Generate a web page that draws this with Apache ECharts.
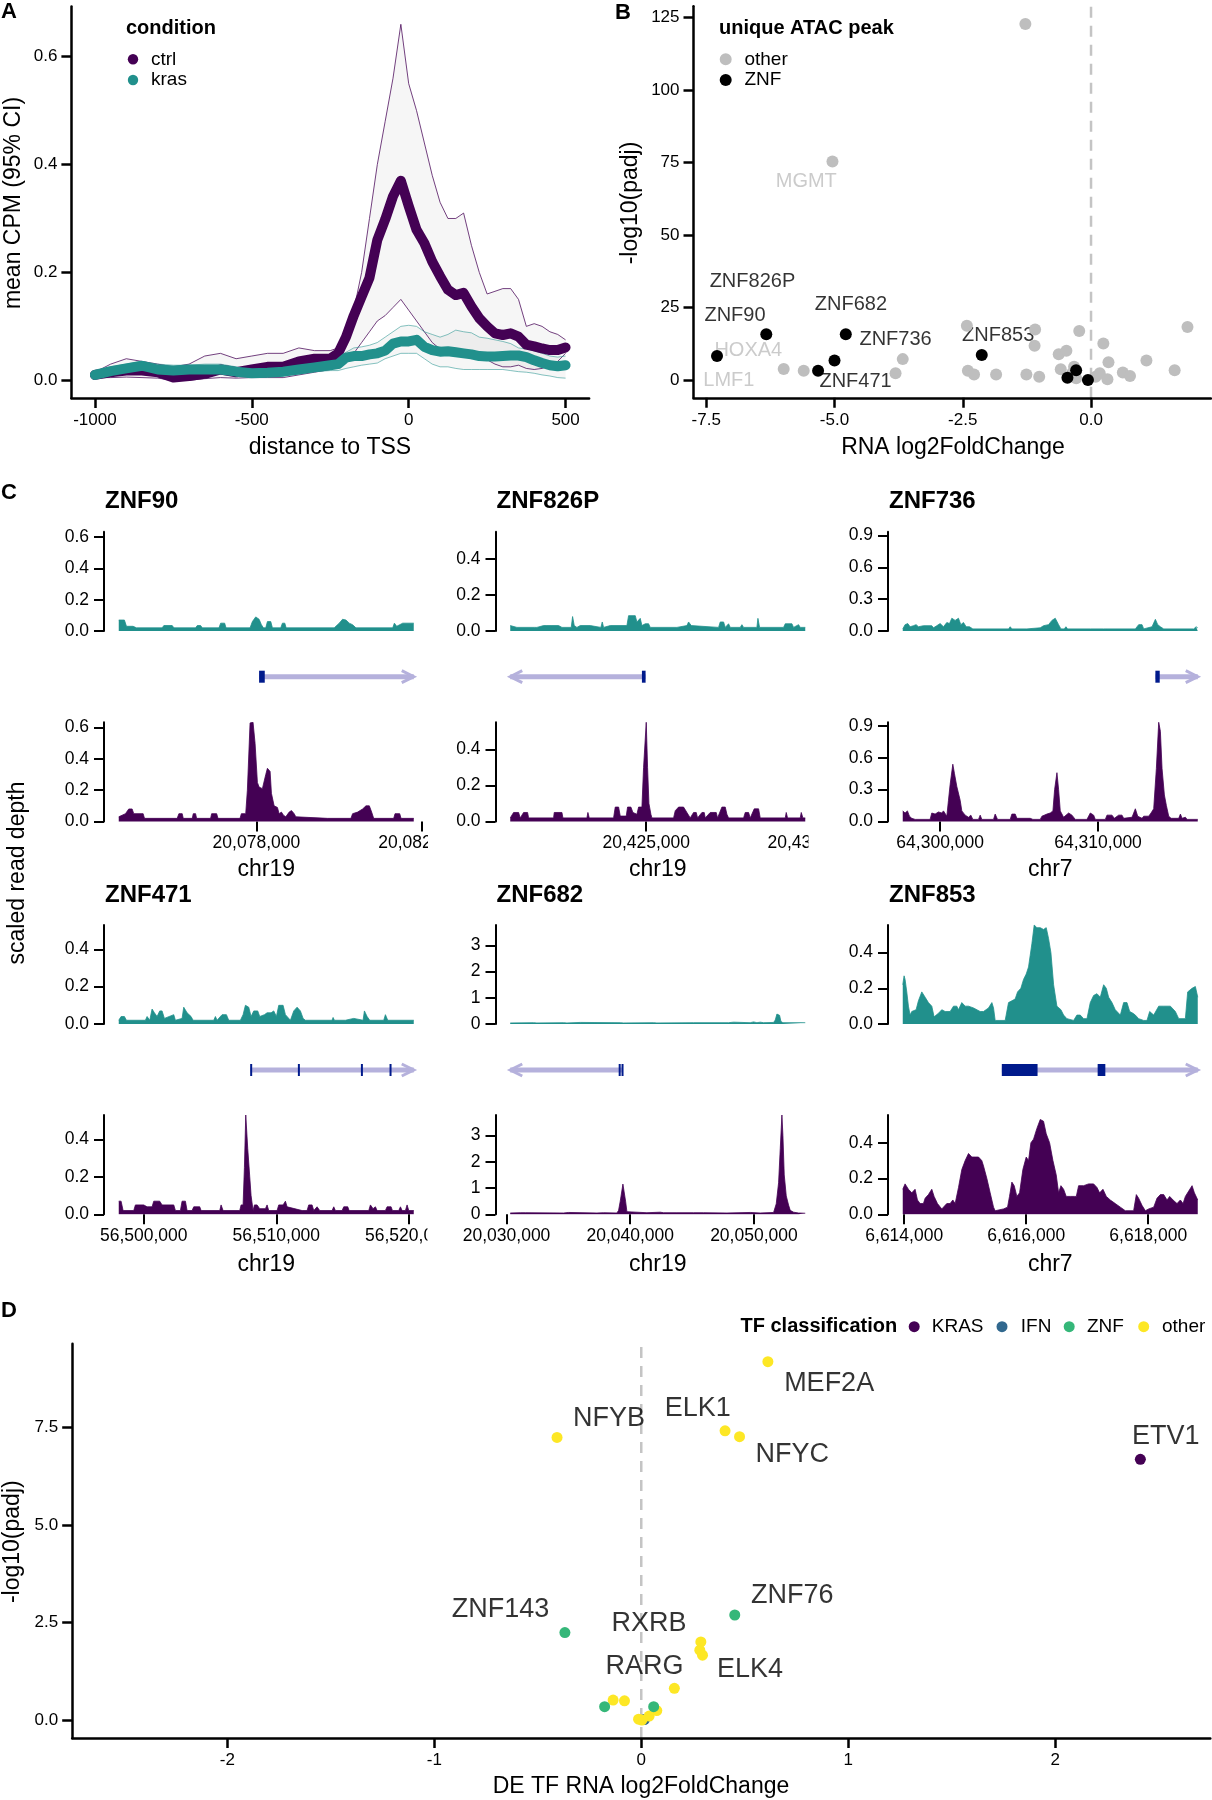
<!DOCTYPE html>
<html><head><meta charset="utf-8">
<script src="https://cdn.jsdelivr.net/npm/echarts@6/dist/echarts.min.js"></script>
<style>html,body{margin:0;padding:0;background:#fff}#c{width:1212px;height:1800px}</style>
</head><body><div id="c"></div>
<script>
// ================= DATA =================
// ---- Panel A: mean CPM around TSS ----
const aPos = [-1000,-950,-900,-850,-800,-750,-700,-650,-600,-550,-500,-450,-400,-350,-300,-250,-225,-200,-175,-150,-125,-100,-75,-50,-25,0,25,50,75,100,125,150,175,200,225,250,275,300,325,350,375,400,425,450,475,500];
const aCtrlMean = [0.010,0.015,0.018,0.018,0.015,0.005,0.008,0.012,0.020,0.015,0.020,0.025,0.025,0.035,0.040,0.040,0.050,0.080,0.120,0.155,0.190,0.260,0.298,0.341,0.370,0.323,0.279,0.254,0.220,0.193,0.168,0.158,0.162,0.137,0.115,0.100,0.087,0.084,0.087,0.081,0.066,0.063,0.059,0.056,0.056,0.061];
const aKrasMean = [0.010,0.017,0.022,0.027,0.020,0.018,0.020,0.020,0.020,0.016,0.013,0.014,0.016,0.020,0.024,0.028,0.030,0.042,0.045,0.045,0.048,0.050,0.055,0.068,0.072,0.072,0.075,0.062,0.056,0.053,0.054,0.052,0.050,0.048,0.045,0.044,0.044,0.045,0.046,0.046,0.043,0.037,0.032,0.028,0.026,0.028];
const aCtrlUpper = [0.015,0.030,0.040,0.035,0.030,0.025,0.030,0.045,0.050,0.040,0.045,0.050,0.050,0.060,0.055,0.055,0.060,0.090,0.130,0.200,0.300,0.400,0.480,0.560,0.660,0.550,0.500,0.440,0.380,0.330,0.300,0.300,0.310,0.250,0.200,0.160,0.165,0.170,0.170,0.150,0.100,0.105,0.100,0.090,0.085,0.075];
const aCtrlLower = [0.005,0.005,0.006,0.005,0.004,0.000,0.000,0.003,0.005,0.004,0.005,0.005,0.005,0.010,0.015,0.020,0.025,0.035,0.050,0.070,0.090,0.110,0.120,0.135,0.150,0.130,0.110,0.090,0.070,0.058,0.055,0.056,0.055,0.050,0.045,0.038,0.030,0.025,0.025,0.028,0.022,0.020,0.022,0.028,0.035,0.050];
const aKrasUpper = [0.012,0.025,0.030,0.035,0.030,0.028,0.028,0.030,0.030,0.025,0.020,0.020,0.022,0.028,0.032,0.038,0.042,0.052,0.060,0.062,0.065,0.070,0.080,0.090,0.100,0.102,0.100,0.090,0.085,0.080,0.085,0.093,0.090,0.088,0.080,0.078,0.075,0.072,0.068,0.060,0.058,0.055,0.050,0.045,0.043,0.045];
const aKrasLower = [0.006,0.010,0.014,0.018,0.012,0.010,0.012,0.012,0.012,0.008,0.006,0.007,0.008,0.012,0.016,0.018,0.018,0.022,0.025,0.028,0.030,0.032,0.040,0.045,0.050,0.050,0.050,0.040,0.030,0.025,0.025,0.022,0.020,0.020,0.020,0.020,0.020,0.020,0.018,0.016,0.015,0.013,0.010,0.008,0.005,0.004];
const aXTicks = [-1000,-500,0,500];
const aYTicks = [0,0.2,0.4,0.6];
const aLegend = ['ctrl','kras'];

// ---- Panel B: RNA volcano of genes with unique ATAC peak ----
const bOtherX = [-1.28,-5.04,-5.99,-5.60,-3.81,-3.67,-2.42,-2.40,-2.28,-1.85,-1.26,-1.09,-1.10,-1.01,-0.63,-0.48,-0.59,-0.33,-0.23,0.24,0.34,0.32,0.09,0.62,0.76,1.08,1.63,1.88,-0.29,-0.37,0.17];
const bOtherY = [122.7,75.3,3.8,3.2,2.3,7.2,18.7,3.2,1.9,1.9,1.9,17.4,11.8,1.1,8.9,10.1,3.7,4.6,16.9,12.6,6.1,0.3,1.1,2.6,1.4,6.7,3.4,18.3,0.6,2.3,2.3];
const bZnfX = [-7.29,-6.33,-5.32,-5.00,-4.78,-2.13,-0.46,-0.29,-0.06];
const bZnfY = [8.3,15.8,3.2,6.7,15.8,8.6,0.8,3.4,0.0];
const bLabelNames = ['MGMT','ZNF826P','ZNF90','HOXA4','LMF1','ZNF682','ZNF736','ZNF471','ZNF853'];
const bLabelClass = ['other','ZNF','ZNF','other','other','ZNF','ZNF','ZNF','ZNF'];
const bLabelX = [-5.55,-6.60,-6.94,-6.68,-7.06,-4.68,-3.81,-4.59,-1.81];
const bLabelY = [68.5,33.8,22.4,10.3,-0.3,26.0,14.0,-0.6,15.5];
const bXTicks = [-7.5,-5,-2.5,0];
const bYTicks = [0,25,50,75,100,125];
const bLegend = ['other','ZNF'];

// ---- Panel C: coverage tracks ([offset from reference bp, scaled read depth]) ----
const cNames = ['ZNF90','ZNF826P','ZNF736','ZNF471','ZNF682','ZNF853'];
const cChrom = ['chr19','chr19','chr7','chr19','chr19','chr7'];
const cRef = [20078000,20425000,64300000,56500000,20040000,6616000];
const cXTicks = [[20078000,20082000],[20425000,20430000],[64300000,64310000],[56500000,56510000,56520000],[20030000,20040000,20050000],[6614000,6616000,6618000]];
const cYTicks = [[0,0.2,0.4,0.6],[0,0.2,0.4],[0,0.3,0.6,0.9],[0,0.2,0.4],[0,1,2,3],[0,0.2,0.4]];

const znf90Kras = [[-3325,.07],[-3188,.07],[-3139,.03],[-2978,.03],[-2946,.04],[-2897,.02],[-2276,.02],[-2235,.035],[-2034,.035],[-1993,.02],[-1469,.02],[-1428,.035],[-1348,.035],[-1307,.02],[-904,.02],[-863,.05],[-767,.05],[-734,.02],[-153,.02],[-97,.06],[-16,.09],[65,.075],[121,.04],[169,.02],[226,.02],[266,.06],[347,.06],[387,.02],[589,.02],[629,.05],[686,.05],[718,.02],[1880,.02],[2001,.05],[2082,.075],[2163,.07],[2243,.05],[2324,.04],[2405,.02],[3293,.02],[3333,.05],[3389,.03],[3535,.05],[3801,.05]];
const znf90Ctrl = [[-3325,.03],[-3244,.04],[-3163,.05],[-3083,.08],[-3002,.08],[-2962,.05],[-2736,.05],[-2703,.02],[-1913,.02],[-1872,.05],[-1792,.05],[-1767,.02],[-1549,.02],[-1525,.05],[-1469,.05],[-1445,.02],[-1106,.02],[-1081,.05],[-960,.05],[-928,.02],[-395,.02],[-363,.05],[-258,.05],[-218,.2],[-153,.63],[-81,.634],[-32,.5],[24,.25],[65,.22],[145,.21],[186,.2],[226,.3],[266,.34],[331,.32],[363,.18],[428,.1],[508,.09],[549,.05],[605,.06],[654,.04],[710,.03],[791,.06],[847,.07],[912,.05],[952,.03],[1719,.02],[2284,.02],[2324,.05],[2445,.06],[2566,.08],[2647,.1],[2728,.1],[2784,.06],[2833,.02],[3317,.02],[3349,.05],[3462,.05],[3494,.02],[3801,.02]];
const znf826Kras = [[-4121,.03],[-4070,.025],[-3919,.02],[-3394,.02],[-3353,.03],[-3313,.02],[-3111,.03],[-3010,.03],[-2959,.02],[-2858,.03],[-2808,.02],[-2656,.03],[-2555,.02],[-2273,.02],[-2232,.08],[-2182,.03],[-2101,.02],[-2000,.03],[-1697,.03],[-1646,.02],[-1374,.02],[-1333,.05],[-1293,.02],[-1091,.03],[-586,.03],[-535,.085],[-333,.085],[-283,.05],[-182,.07],[-131,.03],[-30,.04],[71,.04],[121,.02],[929,.02],[980,.03],[1232,.03],[1283,.05],[1364,.03],[2192,.02],[2242,.05],[2343,.05],[2394,.02],[2495,.04],[2545,.02],[2848,.02],[2899,.035],[2949,.02],[3353,.02],[3384,.07],[3434,.02],[4161,.02],[4212,.04],[4414,.04],[4464,.02],[4616,.035],[4666,.02],[4818,.02]];
const znf826Ctrl = [[-4121,.02],[-4020,.05],[-3868,.05],[-3818,.02],[-3717,.05],[-3596,.05],[-3565,.02],[-2808,.02],[-2788,.05],[-2555,.05],[-2525,.02],[-1798,.02],[-1768,.05],[-1727,.02],[-990,.02],[-939,.08],[-838,.08],[-788,.03],[-606,.03],[-566,.08],[-465,.08],[-404,.05],[-283,.04],[-232,.08],[-131,.08],[-81,.3],[0,.55],[40,.3],[81,.1],[141,.04],[172,.02],[828,.02],[879,.06],[980,.08],[1131,.08],[1232,.05],[1333,.02],[1434,.05],[1515,.05],[1555,.02],[1687,.05],[1757,.05],[1788,.02],[1939,.05],[2121,.05],[2161,.02],[2293,.08],[2394,.08],[2444,.04],[2495,.02],[2949,.02],[3000,.05],[3101,.05],[3151,.02],[3272,.07],[3404,.07],[3454,.02],[4212,.02],[4242,.05],[4282,.02],[4666,.02],[4697,.05],[4747,.02],[4818,.02]];
const znf736Kras = [[-2367,.02],[-2219,.06],[-2050,.07],[-1902,.04],[-1690,.05],[-1521,.06],[-1373,.04],[-1057,.05],[-528,.05],[-423,.03],[-211,.05],[0,.07],[211,.04],[423,.08],[592,.07],[740,.12],[951,.1],[1162,.12],[1310,.06],[1479,.08],[1648,.04],[1859,.04],[2071,.02],[4332,.02],[4437,.04],[4543,.02],[5494,.02],[5599,.03],[6339,.03],[6550,.05],[6867,.06],[7079,.1],[7290,.12],[7501,.06],[7649,.02],[7860,.02],[7966,.04],[8072,.02],[9297,.02],[9403,.03],[9509,.02],[10354,.02],[10459,.03],[10565,.02],[12361,.02],[12572,.06],[12784,.06],[12889,.02],[13418,.04],[13629,.11],[13777,.06],[13946,.04],[14157,.02],[16059,.02],[16207,.04],[16312,.03]];
const znf736Ctrl = [[-2367,.1],[-2219,.08],[-2071,.1],[-1944,.05],[-1796,.03],[-1585,.02],[-634,.02],[-528,.08],[-317,.07],[-106,.09],[106,.08],[211,.1],[423,.05],[528,.2],[634,.35],[803,.54],[909,.45],[1057,.33],[1162,.32],[1268,.2],[1373,.1],[1585,.06],[1796,.04],[1944,.06],[2071,.02],[2430,.02],[2536,.06],[2641,.02],[3381,.02],[3486,.07],[3634,.02],[4437,.02],[4543,.07],[4754,.07],[4860,.03],[5705,.03],[5874,.02],[6339,.02],[6445,.05],[6762,.07],[6973,.08],[7142,.1],[7248,.3],[7396,.46],[7501,.3],[7607,.1],[7818,.04],[8135,.08],[8346,.06],[8558,.02],[9297,.02],[9509,.08],[9720,.06],[9825,.02],[10459,.02],[10565,.06],[10882,.06],[11030,.03],[11305,.06],[11516,.06],[11621,.03],[12150,.04],[12361,.12],[12509,.05],[12784,.03],[12889,.05],[13206,.05],[13354,.08],[13523,.12],[13692,.5],[13840,.935],[13946,.85],[14051,.5],[14199,.25],[14326,.15],[14474,.05],[14622,.03],[15108,.03],[15214,.07],[15319,.03],[15531,.04],[15636,.02],[16312,.02]];
const znf471Kras = [[-1886,.02],[-1710,.04],[-1459,.04],[-1308,.02],[126,.02],[252,.04],[453,.02],[629,.08],[805,.06],[1006,.04],[1207,.07],[1383,.07],[1559,.03],[2264,.05],[2389,.02],[2892,.03],[3018,.09],[3270,.06],[3571,.04],[3722,.02],[5282,.02],[5407,.04],[5533,.02],[5910,.05],[6237,.05],[6413,.02],[7294,.02],[7495,.05],[7671,.1],[7923,.09],[8098,.04],[8300,.07],[8601,.07],[8752,.04],[9105,.05],[9306,.06],[9607,.06],[9809,.07],[10010,.04],[10186,.1],[10513,.1],[10689,.05],[11066,.02],[11318,.07],[11570,.09],[11821,.07],[12023,.03],[12198,.02],[14210,.02],[14286,.035],[14386,.02],[15216,.02],[15342,.03],[15845,.03],[15971,.02],[16549,.02],[16650,.07],[16851,.04],[17052,.02],[18108,.02],[18234,.05],[18410,.02],[20372,.02]];
const znf471Ctrl = [[-1886,.07],[-1710,.07],[-1559,.02],[-755,.02],[-629,.05],[0,.05],[252,.04],[629,.04],[755,.07],[1207,.07],[1383,.05],[2264,.05],[2389,.02],[2767,.02],[2892,.07],[3144,.07],[3270,.02],[3647,.02],[3773,.04],[4225,.04],[4326,.02],[5735,.02],[5835,.05],[5986,.02],[7243,.02],[7344,.05],[7495,.05],[7596,.25],[7697,.53],[7847,.35],[7998,.2],[8098,.1],[8250,.02],[8350,.05],[8551,.05],[8752,.03],[9180,.03],[9306,.05],[9431,.02],[10060,.02],[10186,.05],[10513,.05],[10689,.07],[10815,.04],[11947,.02],[12324,.02],[12449,.05],[12701,.05],[12827,.02],[13078,.04],[13280,.02],[14210,.02],[14336,.04],[14462,.02],[14966,.02],[15091,.04],[15393,.04],[15494,.02],[16977,.02],[17102,.05],[17304,.03],[17480,.04],[17606,.02],[18234,.02],[18360,.04],[18662,.04],[18763,.02],[19241,.02],[19367,.04],[19492,.02],[19744,.02],[19869,.05],[19995,.02],[20372,.02]];
const znf682Kras = [[-9702,.04],[-7816,.05],[-7681,.08],[-7546,.04],[-5390,.05],[-5255,.07],[-5121,.04],[-4043,.06],[-3908,.04],[-809,.05],[-674,.09],[-539,.04],[1887,.05],[2021,.07],[2156,.04],[5121,.05],[7950,.05],[8085,.09],[8355,.07],[8489,.04],[9702,.05],[9972,.08],[10241,.05],[10511,.07],[10780,.05],[11589,.06],[11723,.15],[11858,.38],[12074,.33],[12181,.1],[12343,.05],[14149,.05]];
const znf682Ctrl = [[-9702,.05],[-8894,.06],[-8489,.06],[-8355,.04],[-5390,.05],[-5255,.09],[-4986,.07],[-4851,.04],[-2695,.05],[-2156,.06],[-1078,.05],[-943,.15],[-809,.5],[-593,1.15],[-485,1.15],[-377,.5],[-270,.1],[-135,.04],[1348,.06],[2426,.08],[2695,.06],[3773,.06],[5121,.06],[5929,.06],[7816,.05],[9702,.07],[10511,.05],[11589,.07],[11804,.4],[11993,1.2],[12128,2.5],[12262,3.78],[12343,3.0],[12451,1.5],[12613,.7],[12801,.35],[12936,.15],[13206,.08],[13610,.05],[14149,.04]];
const znf853Kras = [[-2024,.22],[-2002,.27],[-1986,.25],[-1958,.18],[-1931,.1],[-1904,.05],[-1876,.07],[-1849,.06],[-1805,.08],[-1767,.13],[-1712,.18],[-1657,.15],[-1603,.12],[-1548,.1],[-1510,.04],[-1439,.06],[-1384,.08],[-1329,.07],[-1247,.07],[-1192,.1],[-1138,.1],[-1110,.08],[-1056,.12],[-1001,.1],[-946,.1],[-864,.09],[-755,.07],[-700,.07],[-618,.09],[-563,.12],[-536,.09],[-509,.02],[-345,.02],[-290,.12],[-235,.13],[-181,.14],[-142,.18],[-88,.2],[-44,.25],[0,.28],[38,.32],[93,.45],[131,.555],[175,.54],[230,.54],[284,.53],[328,.54],[366,.48],[405,.4],[449,.22],[503,.1],[569,.08],[613,.05],[667,.03],[777,.02],[831,.05],[886,.05],[941,.03],[996,.03],[1050,.12],[1105,.16],[1160,.17],[1214,.15],[1269,.22],[1313,.2],[1351,.15],[1406,.12],[1460,.08],[1543,.05],[1597,.12],[1652,.12],[1696,.07],[1750,.06],[1789,.05],[1843,.03],[1925,.02],[1980,.02],[2024,.07],[2090,.05],[2172,.1],[2254,.1],[2363,.1],[2445,.07],[2500,.03],[2609,.03],[2647,.18],[2719,.2],[2773,.21],[2812,.15]];
const znf853Ctrl = [[-2024,.14],[-1986,.17],[-1931,.14],[-1876,.12],[-1822,.14],[-1783,.08],[-1739,.06],[-1685,.06],[-1657,.09],[-1603,.11],[-1548,.14],[-1510,.1],[-1455,.06],[-1384,.03],[-1302,.06],[-1247,.06],[-1203,.08],[-1165,.06],[-1110,.15],[-1056,.25],[-1001,.3],[-946,.34],[-892,.32],[-837,.32],[-782,.32],[-728,.3],[-700,.27],[-645,.2],[-591,.12],[-536,.04],[-509,.02],[-372,.03],[-306,.04],[-274,.1],[-235,.18],[-197,.16],[-153,.1],[-109,.12],[-55,.25],[0,.32],[38,.3],[77,.4],[120,.42],[175,.48],[230,.53],[284,.52],[328,.45],[383,.4],[438,.3],[492,.22],[531,.12],[569,.16],[613,.14],[656,.1],[722,.1],[788,.1],[821,.1],[859,.16],[941,.16],[1023,.17],[1105,.17],[1160,.15],[1203,.12],[1258,.14],[1313,.1],[1378,.08],[1460,.06],[1543,.04],[1625,.02],[1761,.02],[1805,.11],[1843,.09],[1898,.05],[1953,.02],[2007,.03],[2090,.04],[2144,.09],[2199,.11],[2254,.11],[2308,.08],[2352,.1],[2407,.08],[2472,.06],[2527,.08],[2571,.06],[2609,.1],[2664,.13],[2719,.16],[2757,.12],[2812,.08]];
const cKras = [znf90Kras, znf826Kras, znf736Kras, znf471Kras, znf682Kras, znf853Kras];
const cCtrl = [znf90Ctrl, znf826Ctrl, znf736Ctrl, znf471Ctrl, znf682Ctrl, znf853Ctrl];
// gene models (offsets from reference bp)
const geneSpan = [[65,3801],[-4121,-20],[13629,16312],[8048,20372],[-9702,-674],[-400,2812]];
const geneStrand = [1,-1,1,1,-1,1];
const geneExons = [[[65,202]],[[-131,-20]],[[13629,13904]],[[8030,8075],[11630,11675],[16385,16430],[18545,18590]],[[-935,-905],[-705,-674]],[[-400,186],[1171,1297]]];

// ---- Panel D: DE TF volcano ----
const dKrasX = [2.412], dKrasY = [6.68];
const dIfnX = [0.015], dIfnY = [0.01];
const dZnfX = [-0.369,0.452,-0.177,0.060], dZnfY = [2.24,2.69,0.34,0.34];
const dOtherX = [-0.407,0.612,0.405,0.475,0.288,0.283,0.296,0.160,-0.136,-0.081,0.075,0.038,-0.013,0.003];
const dOtherY = [7.24,9.18,7.41,7.26,2.00,1.79,1.66,0.81,0.51,0.49,0.24,0.10,0.02,0.00];
const dLabelNames = ['NFYB','MEF2A','ELK1','NFYC','ETV1','ZNF143','ZNF76','RXRB','RARG','ELK4'];
const dLabelX = [-0.156,0.908,0.273,0.730,2.535,-0.680,0.730,0.038,0.016,0.526];
const dLabelY = [7.73,8.62,7.98,6.81,7.25,2.82,3.20,2.48,1.38,1.30];
const dXTicks = [-2,-1,0,1,2];
const dYTicks = [0,2.5,5,7.5];
const dLegend = ['KRAS','IFN','ZNF','other'];

// ================= STYLE / LAYOUT =================
const FONT = "'Liberation Sans', Arial, Helvetica, sans-serif";
const PURPLE = '#440154', TEAL = '#21908C';
const GENE_LINE = '#b5b1dc', GENE_EXON = '#001a8c';
const BGREY = '#bebebe';
const D_COL = {KRAS:'#440154', IFN:'#31688E', ZNF:'#35B779', other:'#FDE725'};
const cLayout = {
  colLeft: [104, 495.5, 888], trackWidth: 324.5,
  rows: [
    {title: 501.7, top: [531.7, 631], gene: 676.7, bot: [722.3, 821.5], chrom: 870},
    {title: 895, top: [925, 1024], gene: 1070, bot: [1115, 1214.3], chrom: 1265}
  ]
};
const legendLayout = {
  a: {dotX:133, textX:151, ys:[59.3, 80], r:5.2},
  b: {dotX:725.7, textX:744.4, ys:[59.3, 80], r:6},
  d: {dotX:[914.2, 1002, 1069.2, 1143.7], textX:[931.8, 1020.8, 1087, 1162], y:1326.7, r:5.5}
};

function expand(arr){ const mn=Math.min(...arr), mx=Math.max(...arr), d=(mx-mn)*0.05; return [mn-d, mx+d]; }
function commas(v){ return String(Math.round(v)).replace(/\B(?=(\d{3})+(?!\d))/g, ','); }

const grids=[], xAxes=[], yAxes=[], series=[], graphics=[];

function axis(gi, min, max, ticks, fmt, opts){
  opts = opts || {};
  const lw = opts.lw || 2.5;
  return {
    type:'value', gridIndex:gi, min:min, max:max, show: opts.show !== false,
    splitLine:{show:false},
    axisLine:{show: opts.line !== false, onZero:false, lineStyle:{color:'#000', width:lw}},
    axisTick:{show: !!ticks, length:10, customValues: ticks || [], lineStyle:{color:'#000', width:lw}},
    axisLabel:{show: !!ticks, customValues: ticks || [], margin: opts.margin || 14, color:'#000',
      fontSize: opts.fs || 17, fontFamily: FONT, formatter: fmt}
  };
}
function addText(x, y, text, size, opts){
  opts = opts || {};
  graphics.push({type:'text', x:x, y:y, rotation: opts.rot || 0, z:50, silent:true,
    style:{text:text, fill: opts.color || '#000', font: (opts.bold ? 'bold ' : '') + size + 'px ' + FONT,
      align: opts.align || 'center', verticalAlign:'middle', textAlign: opts.align || 'center', textVerticalAlign:'middle'}});
}
function addDot(x, y, r, color){
  graphics.push({type:'circle', x:0, y:0, z:50, silent:true, shape:{cx:x, cy:y, r:r}, style:{fill:color}});
}
function vDash(gi, yr){
  return {type:'custom', name:'zero line', xAxisIndex:gi, yAxisIndex:gi, silent:true, z:0, data:[[0, yr[0]]],
    renderItem:(params, api) => {
      const p1 = api.coord([0, yr[0]]), p2 = api.coord([0, yr[1]]);
      return {type:'line', shape:{x1:p1[0], y1:p1[1], x2:p2[0], y2:p2[1]},
        style:{stroke:'#c4c4c4', lineWidth:2.5, lineDash:[11,8]}};
    }};
}

// ---------- Panel A ----------
grids.push({left:71.4, top:6.5, width:517.7, height:391.6});
const aYR = expand([].concat(aCtrlUpper, aCtrlLower, aKrasUpper, aKrasLower, aCtrlMean, aKrasMean));
xAxes.push(axis(0, ...expand(aPos), aXTicks, v => String(v)));
yAxes.push(axis(0, aYR[0], aYR[1], aYTicks, v => v.toFixed(1)));
function band(lower, upper, fill){
  return {type:'custom', xAxisIndex:0, yAxisIndex:0, silent:true, z:1, data:[[aPos[0], lower[0]]],
    renderItem:(params, api) => {
      const pts=[];
      for (let i=0;i<aPos.length;i++) pts.push(api.coord([aPos[i], upper[i]]));
      for (let i=aPos.length-1;i>=0;i--) pts.push(api.coord([aPos[i], lower[i]]));
      return {type:'polygon', shape:{points:pts}, style:{fill:fill}};
    }};
}
series.push(band(aCtrlLower, aCtrlUpper, 'rgba(0,0,0,0.035)'));
series.push(band(aKrasLower, aKrasUpper, 'rgba(0,0,0,0.035)'));
function thin(vals, color, name){
  return {type:'line', name:name, xAxisIndex:0, yAxisIndex:0, silent:true, symbol:'none', z:2,
    data: aPos.map((p,i)=>[p, vals[i]]), lineStyle:{color:color, width:1}};
}
series.push(thin(aCtrlUpper, 'rgba(68,1,84,0.75)', 'ctrl upper'));
series.push(thin(aCtrlLower, 'rgba(68,1,84,0.75)', 'ctrl lower'));
series.push(thin(aKrasUpper, 'rgba(33,144,140,0.55)', 'kras upper'));
series.push(thin(aKrasLower, 'rgba(33,144,140,0.55)', 'kras lower'));
series.push({type:'line', name:'ctrl', xAxisIndex:0, yAxisIndex:0, symbol:'none', z:3, color:PURPLE,
  data: aPos.map((p,i)=>[p, aCtrlMean[i]]), lineStyle:{color:PURPLE, width:10, cap:'round', join:'round'}});
series.push({type:'line', name:'kras', xAxisIndex:0, yAxisIndex:0, symbol:'none', z:4, color:TEAL,
  data: aPos.map((p,i)=>[p, aKrasMean[i]]), lineStyle:{color:TEAL, width:10, cap:'round', join:'round'}});
addText(1, 12, 'A', 22, {bold:true, align:'left'});
addText(126, 28, 'condition', 20, {bold:true, align:'left'});
aLegend.forEach((n, i) => {
  addDot(legendLayout.a.dotX, legendLayout.a.ys[i], legendLayout.a.r, i === 0 ? PURPLE : TEAL);
  addText(legendLayout.a.textX, legendLayout.a.ys[i], n, 19, {align:'left'});
});
addText(14, 203, 'mean CPM (95% CI)', 23, {rot: Math.PI/2});
addText(330, 448, 'distance to TSS', 23);

// ---------- Panel B ----------
grids.push({left:693.5, top:6.3, width:517.5, height:391.5});
const bXR = expand(bOtherX.concat(bZnfX)), bYR = expand(bOtherY.concat(bZnfY));
xAxes.push(axis(1, bXR[0], bXR[1], bXTicks, v => v.toFixed(1)));
yAxes.push(axis(1, bYR[0], bYR[1], bYTicks, v => String(v)));
series.push(vDash(1, bYR));
series.push({type:'scatter', name:'bLabels', xAxisIndex:1, yAxisIndex:1, symbolSize:1, silent:true, z:1,
  itemStyle:{color:'transparent'},
  data: bLabelNames.map((n,i)=>({name:n, value:[bLabelX[i], bLabelY[i]],
    label:{color: bLabelClass[i]==='other' ? BGREY : '#000'}})),
  label:{show:true, position:'inside', formatter:'{b}', fontSize:20, fontFamily:FONT}});
series.push({type:'scatter', name:'other', xAxisIndex:1, yAxisIndex:1, symbolSize:12, z:3, color:BGREY,
  data: bOtherX.map((x,i)=>[x, bOtherY[i]]), itemStyle:{color:BGREY, opacity:1}});
series.push({type:'scatter', name:'ZNF', xAxisIndex:1, yAxisIndex:1, symbolSize:12, z:4, color:'#000',
  data: bZnfX.map((x,i)=>[x, bZnfY[i]]), itemStyle:{color:'#000', opacity:1}});
addText(615, 13, 'B', 22, {bold:true, align:'left'});
addText(719, 28, 'unique ATAC peak', 20, {bold:true, align:'left'});
bLegend.forEach((n, i) => {
  addDot(legendLayout.b.dotX, legendLayout.b.ys[i], legendLayout.b.r, i === 0 ? BGREY : '#000');
  addText(legendLayout.b.textX, legendLayout.b.ys[i], n, 19, {align:'left'});
});
addText(953, 448, 'RNA log2FoldChange', 23);
addText(631, 203, '-log10(padj)', 23, {rot: Math.PI/2});

// ---------- Panel C ----------
const geneGridStart = 2 + 12;
for (let pi=0; pi<6; pi++){
  const row = cLayout.rows[Math.floor(pi/3)], col = pi % 3;
  const left = cLayout.colLeft[col], W = cLayout.trackWidth;
  const ref = cRef[pi];
  const allPos = cKras[pi].map(d=>d[0]).concat(cCtrl[pi].map(d=>d[0]));
  const xr = expand(allPos).map(v => v + ref);
  const ymax = Math.max(...cKras[pi].map(d=>d[1]), ...cCtrl[pi].map(d=>d[1]));
  const yfmt = pi === 4 ? (v => String(v)) : (v => v.toFixed(1));
  const gTop = 2 + 2*pi, gBot = 3 + 2*pi;
  grids[gTop] = {left:left, top:row.top[0], width:W, height:row.top[1]-row.top[0]};
  xAxes[gTop] = axis(gTop, xr[0], xr[1], null, null, {show:false});
  yAxes[gTop] = axis(gTop, 0, ymax, cYTicks[pi], yfmt, {lw:2, fs:17.5, margin:15});
  grids[gBot] = {left:left, top:row.bot[0], width:W, height:row.bot[1]-row.bot[0]};
  xAxes[gBot] = axis(gBot, xr[0], xr[1], cXTicks[pi], v => commas(v), {line:false, lw:2, fs:17.5, margin:13});
  yAxes[gBot] = axis(gBot, 0, ymax, cYTicks[pi], yfmt, {lw:2, fs:17.5, margin:15});
  [[gTop, cKras[pi], TEAL, 'kras'], [gBot, cCtrl[pi], PURPLE, 'ctrl']].forEach(([g, arr, color, nm]) => {
    series.push({type:'line', name: cNames[pi] + ' ' + nm, xAxisIndex:g, yAxisIndex:g, silent:true, symbol:'none',
      data: arr.map(d => [ref + d[0], d[1]]), lineStyle:{color:color, width:0.8}, areaStyle:{color:color, opacity:1}});
  });
  const gg = geneGridStart + pi;
  grids[gg] = {left:left, top:row.gene-10, width:W, height:20};
  xAxes[gg] = axis(gg, xr[0], xr[1], null, null, {show:false});
  yAxes[gg] = axis(gg, -1, 1, null, null, {show:false});
  series.push({type:'custom', name: cNames[pi] + ' gene', xAxisIndex:gg, yAxisIndex:gg, silent:true,
    data:[[ref + (geneSpan[pi][0]+geneSpan[pi][1])/2, 0]],
    renderItem:(params, api) => {
      const y = api.coord([ref, 0])[1];
      const px = v => api.coord([ref + v, 0])[0];
      const x1 = px(geneSpan[pi][0]), x2 = px(geneSpan[pi][1]);
      const ch = [{type:'rect', shape:{x:x1, y:y-2.5, width:x2-x1, height:5}, style:{fill:GENE_LINE}}];
      const dir = geneStrand[pi], tip = dir > 0 ? x2 : x1;
      ch.push({type:'polyline', shape:{points:[[tip-dir*12, y-6],[tip, y],[tip-dir*12, y+6]]},
        style:{stroke:GENE_LINE, lineWidth:3, fill:null}});
      geneExons[pi].forEach(e => {
        const a = px(e[0]), b = px(e[1]);
        ch.push({type:'rect', shape:{x:a, y:y-6, width:Math.max(2, b-a), height:12}, style:{fill:GENE_EXON}});
      });
      return {type:'group', children:ch};
    }});
  addText(left + 1, row.title, cNames[pi], 24, {bold:true, align:'left'});
  addText(left + W/2, row.chrom, cChrom[pi], 23);
}
addText(1, 492.5, 'C', 22, {bold:true, align:'left'});
addText(18, 873, 'scaled read depth', 23, {rot: Math.PI/2});
// clipping of overflowing tick labels at sub-plot borders
[[428, 833, 42, 25], [427.5, 1226, 30, 24], [808.5, 833, 54, 25], [808.5, 816, 8, 18]].forEach(r => {
  graphics.push({type:'rect', z:100, silent:true, shape:{x:r[0], y:r[1], width:r[2], height:r[3]}, style:{fill:'#fff'}});
});

// ---------- Panel D ----------
const gD = geneGridStart + 6;
grids[gD] = {left:72.2, top:1343.8, width:1138.1, height:394.1};
const dYR = expand([].concat(dKrasY, dIfnY, dZnfY, dOtherY));
xAxes[gD] = axis(gD, -2.75, 2.75, dXTicks, v => String(v));
yAxes[gD] = axis(gD, dYR[0], dYR[1], dYTicks, v => v.toFixed(1), {margin:14});
series.push(vDash(gD, dYR));
series.push({type:'scatter', name:'dLabels', xAxisIndex:gD, yAxisIndex:gD, symbolSize:1, silent:true, z:1,
  itemStyle:{color:'transparent'},
  data: dLabelNames.map((n,i)=>({name:n, value:[dLabelX[i], dLabelY[i]]})),
  label:{show:true, position:'inside', formatter:'{b}', fontSize:27, color:'#000', fontFamily:FONT}});
function dSeries(key, xs, ys, z){
  return {type:'scatter', name:'D ' + key, xAxisIndex:gD, yAxisIndex:gD, symbolSize:11, z:z, color:D_COL[key],
    itemStyle:{color:D_COL[key], opacity:1}, data: xs.map((x,i)=>[x, ys[i]])};
}
series.push(dSeries('IFN', dIfnX, dIfnY, 3));
series.push(dSeries('other', dOtherX, dOtherY, 4));
series.push(dSeries('ZNF', dZnfX, dZnfY, 5));
series.push(dSeries('KRAS', dKrasX, dKrasY, 6));
addText(1, 1311, 'D', 22, {bold:true, align:'left'});
addText(740.5, 1326.7, 'TF classification', 20, {bold:true, align:'left'});
dLegend.forEach((k, i) => {
  addDot(legendLayout.d.dotX[i], legendLayout.d.y, legendLayout.d.r, D_COL[k]);
  addText(legendLayout.d.textX[i], legendLayout.d.y, k, 19, {align:'left'});
});
addText(641, 1786.7, 'DE TF RNA log2FoldChange', 23);
addText(13, 1541.7, '-log10(padj)', 23, {rot: Math.PI/2});

grids.forEach(g => { g.containLabel = false; g.outerBoundsMode = 'none'; });

const option = {
  animation:false,
  backgroundColor:'#fff',
  textStyle:{fontFamily:FONT},
  grid:grids, xAxis:xAxes, yAxis:yAxes, series:series,
  graphic:{elements:graphics}
};
const chart = echarts.init(document.getElementById('c'), null, {renderer:'canvas', width:1212, height:1800});
chart.setOption(option);
</script>
</body></html>
